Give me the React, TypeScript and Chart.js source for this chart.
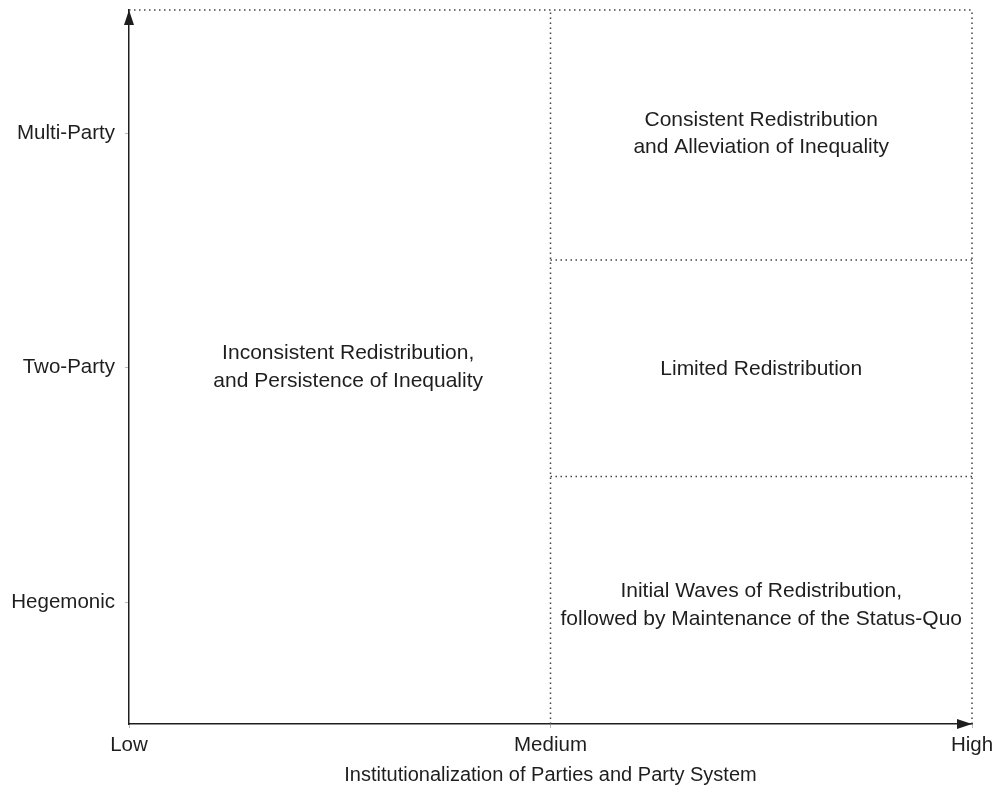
import React, { useEffect, useRef } from "react";
import { Chart, registerables } from "chart.js";

Chart.register(...registerables);

// Axis categories
const xCategories = ["Low", "Medium", "High"];
const xValues = [0, 1, 2];
const yCategories = ["Hegemonic", "Two-Party", "Multi-Party"];
const yValues = [0.51, 1.5, 2.48];

const xTitle = "Institutionalization of Parties and Party System";

// Region boundaries (data units)
const xMid = 1;
const rowDividers = [1.04, 1.95];

// Region labels
const regionTexts = [
  ["Inconsistent Redistribution,", "and Persistence of Inequality"],
  ["Consistent Redistribution", "and Alleviation of Inequality"],
  ["Limited Redistribution"],
  ["Initial Waves of Redistribution,", "followed by Maintenance of the Status-Quo"],
];
const regionX = [0.52, 1.5, 1.5, 1.5];
const regionY = [1.5, 2.48, 1.49, 0.5];

const FONT = "'Liberation Sans', Arial, Helvetica, sans-serif";
const TEXT = "#1e1e1e";
const DOT = "#444";

const dotted = (data: { x: number; y: number }[]) => ({
  type: "line" as const,
  data,
  borderColor: DOT,
  borderWidth: 1.5,
  borderDash: [1.5, 3.5],
  pointRadius: 0,
  fill: false,
  clip: false as any,
  tension: 0,
});

export default function App() {
  const ref = useRef<HTMLCanvasElement | null>(null);

  useEffect(() => {
    if (!ref.current) return;

    const arrows = {
      id: "arrows",
      afterDraw(chart: any) {
        const { ctx, chartArea } = chart;
        ctx.save();
        ctx.fillStyle = TEXT;
        ctx.beginPath();
        ctx.moveTo(chartArea.left, chartArea.top);
        ctx.lineTo(chartArea.left - 5, chartArea.top + 15);
        ctx.lineTo(chartArea.left + 5, chartArea.top + 15);
        ctx.closePath();
        ctx.fill();
        ctx.beginPath();
        ctx.moveTo(chartArea.right, chartArea.bottom);
        ctx.lineTo(chartArea.right - 15, chartArea.bottom - 5);
        ctx.lineTo(chartArea.right - 15, chartArea.bottom + 5);
        ctx.closePath();
        ctx.fill();
        ctx.restore();
      },
    };

    const regionLabels = {
      id: "regionLabels",
      afterDatasetsDraw(chart: any) {
        const { ctx, scales } = chart;
        ctx.save();
        ctx.font = `21px ${FONT}`;
        ctx.fillStyle = TEXT;
        ctx.textAlign = "center";
        ctx.textBaseline = "middle";
        const lh = 27.5;
        regionTexts.forEach((lines, i) => {
          const cx = scales.x.getPixelForValue(regionX[i]);
          const cy = scales.y.getPixelForValue(regionY[i]);
          const start = cy - ((lines.length - 1) * lh) / 2;
          lines.forEach((t, j) => ctx.fillText(t, cx, start + j * lh));
        });
        ctx.restore();
      },
    };

    const chart = new Chart(ref.current, {
      type: "scatter",
      data: {
        datasets: [
          dotted([{ x: 0, y: 3 }, { x: 2, y: 3 }]),
          dotted([{ x: 2, y: 0 }, { x: 2, y: 3 }]),
          dotted([{ x: xMid, y: 0 }, { x: xMid, y: 3 }]),
          ...rowDividers.map((r) => dotted([{ x: xMid, y: r }, { x: 2, y: r }])),
        ] as any,
      },
      options: {
        responsive: false,
        animation: false,
        events: [],
        layout: { padding: { top: 10, right: 23, left: 0, bottom: 0 } },
        plugins: {
          legend: { display: false },
          tooltip: { enabled: false },
        },
        scales: {
          x: {
            type: "linear",
            min: 0,
            max: 2,
            afterFit(scale: any) {
              scale.height = 69;
              scale.paddingLeft = 0;
              scale.paddingRight = 0;
            },
            afterBuildTicks(scale: any) {
              scale.ticks = xValues.map((v) => ({ value: v }));
            },
            ticks: {
              callback: (v: any) => xCategories[xValues.indexOf(Number(v))] ?? "",
              font: { family: FONT, size: 20.5 },
              color: TEXT,
              padding: 5,
              maxRotation: 0,
              autoSkip: false,
            },
            grid: {
              drawOnChartArea: false,
              drawTicks: true,
              tickLength: 4,
              tickColor: "#bbb",
            },
            border: { display: true, color: TEXT, width: 1.5 },
            title: {
              display: true,
              text: xTitle,
              font: { family: FONT, size: 20, lineHeight: 1.2 },
              color: TEXT,
              padding: { top: 0, bottom: 6 },
            },
          },
          y: {
            type: "linear",
            min: 0,
            max: 3,
            afterFit(scale: any) {
              scale.width = 129;
              scale.paddingTop = 0;
              scale.paddingBottom = 0;
            },
            afterBuildTicks(scale: any) {
              scale.ticks = yValues.map((v) => ({ value: v }));
            },
            ticks: {
              callback: (v: any) => yCategories[yValues.indexOf(Number(v))] ?? "",
              font: { family: FONT, size: 20.5 },
              color: TEXT,
              padding: 10,
              autoSkip: false,
            },
            grid: {
              drawOnChartArea: false,
              drawTicks: true,
              tickLength: 4,
              tickColor: "#bbb",
            },
            border: { display: true, color: TEXT, width: 1.5 },
          },
        },
      },
      plugins: [regionLabels, arrows],
    });

    return () => chart.destroy();
  }, []);

  return (
    <div style={{ position: "absolute", left: 0, top: 0, width: 995, height: 793 }}>
      <canvas ref={ref} width={995} height={793} style={{ width: 995, height: 793 }} />
    </div>
  );
}
